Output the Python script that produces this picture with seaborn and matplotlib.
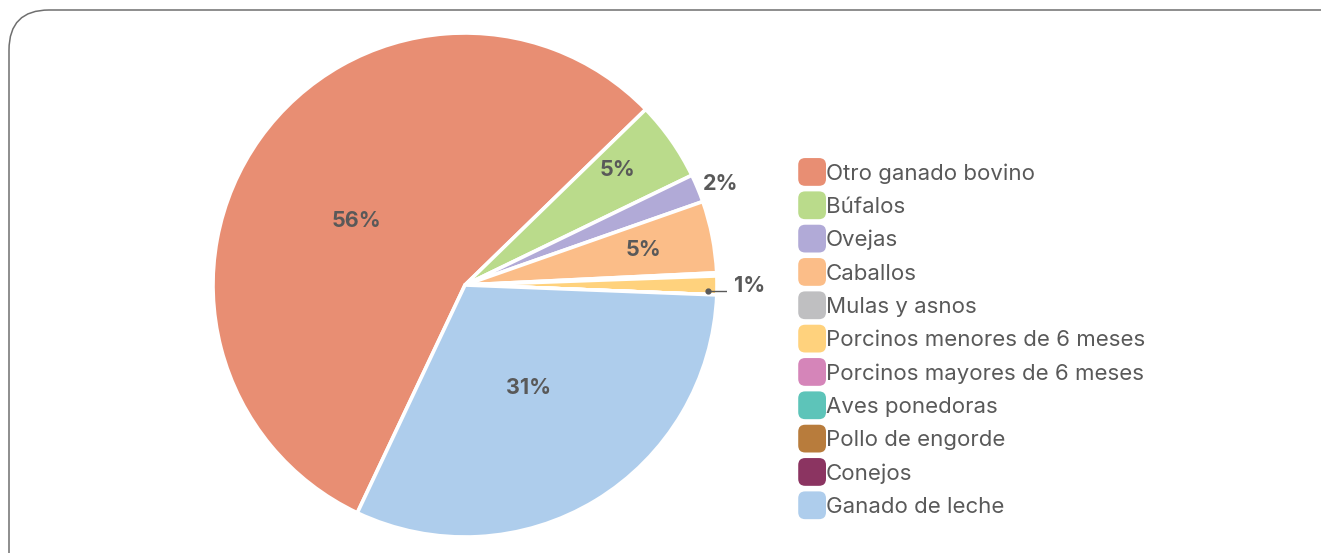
import numpy as np
import matplotlib
matplotlib.use("Agg")
import matplotlib.pyplot as plt
import seaborn as sns
from matplotlib.patches import FancyBboxPatch, Patch
from matplotlib.legend_handler import HandlerPatch

# Data (share of animals, %)
categories = ["Otro ganado bovino", "Búfalos", "Ovejas", "Caballos", "Mulas y asnos",
              "Porcinos menores de 6 meses", "Porcinos mayores de 6 meses",
              "Aves ponedoras", "Pollo de engorde", "Conejos", "Ganado de leche"]
shares = [55.7, 5.1, 1.8, 4.6, 0.2, 1.2, 0.0, 0.0, 0.0, 0.0, 31.4]
colors = ["#E88E73", "#BADB8B", "#B1AAD7", "#FBBD88", "#BFBFC1", "#FFD27D",
          "#D585B9", "#5DC4B9", "#B87C3C", "#8B3461", "#AECDEC"]

sns.set_theme(style="white")
plt.rcParams["font.family"] = ["Inter", "DejaVu Sans"]
text_col = "#595959"

W, H = 1321, 553
fig = plt.figure(figsize=(W / 100, H / 100), dpi=100)

# rounded frame, right and bottom sides run off the canvas
frame = FancyBboxPatch((9, -120), 1400, H - 10 + 120, boxstyle="round,pad=0,rounding_size=40",
                       transform=None, fill=False, edgecolor="#6F6F6F", linewidth=1.1)
fig.patches.append(frame)

# pie axes: centre at (465, 285) px, radius 252 px
cx, cy, R = 465, 285, 252
half = 262
ax = fig.add_axes([(cx - half) / W, (H - cy - half) / H, 2 * half / W, 2 * half / H])
lim = half / R

wedges, _ = ax.pie(shares, colors=colors, startangle=244.7, counterclock=False,
                   radius=1.0, wedgeprops=dict(edgecolor="white", linewidth=2.6))
ax.set_xlim(-lim, lim)
ax.set_ylim(-lim, lim)
ax.set_aspect("equal")
ax.axis("off")

# percentage labels: (distance as fraction of radius, angle shift from slice middle)
label_pos = {0: (0.50, 4.8), 1: (0.76, 2.0), 2: (1.09, -1.0), 3: (0.72, 0.0), 10: (0.48, 0.5)}
for i, w in enumerate(wedges):
    if shares[i] <= 0:
        continue
    mid = (w.theta1 + w.theta2) / 2
    pct = f"{round(shares[i]):d}%"
    if i in label_pos:
        d, shift = label_pos[i]
        a = np.deg2rad(mid + shift)
        ax.text(d * np.cos(a), d * np.sin(a), pct, ha="center", va="center",
                fontsize=15.5, fontweight="bold", color=text_col)
    elif i == 5:
        a = np.deg2rad(mid - 1.4)
        x0, y0 = 0.965 * np.cos(a), 0.965 * np.sin(a)
        x1 = 1.065
        ax.plot([x0, x1], [y0, y0], color=text_col, lw=1.0)
        ax.plot([x0], [y0], "o", color=text_col, ms=3.5)
        ax.plot([x1, x1], [y0 - 0.02, y0 + 0.02], color=text_col, lw=1.0)
        ax.text(x1 + 0.004, y0 + 0.022, pct, ha="left", va="center",
                fontsize=15.5, fontweight="bold", color=text_col)


class RoundBox(HandlerPatch):
    def create_artists(self, legend, orig_handle, xdescent, ydescent, width, height,
                       fontsize, trans):
        s = 20
        p = FancyBboxPatch((-xdescent + width - s, -ydescent + (height - s) / 2), s, s,
                           boxstyle="round,pad=0,rounding_size=5",
                           facecolor=orig_handle.get_facecolor(), edgecolor="none",
                           transform=trans)
        return [p]


handles = [Patch(facecolor=c) for c in colors]
leg = fig.legend(handles, categories, loc="upper left", bbox_to_anchor=(806 / W, 1 - 162 / H),
                 frameon=False, fontsize=16, labelspacing=0.53, handlelength=0.9,
                 handleheight=1.0, handletextpad=0.0, borderaxespad=0, borderpad=0,
                 handler_map={Patch: RoundBox()})
for t in leg.get_texts():
    t.set_color(text_col)

fig.savefig("out.png", dpi=100)
